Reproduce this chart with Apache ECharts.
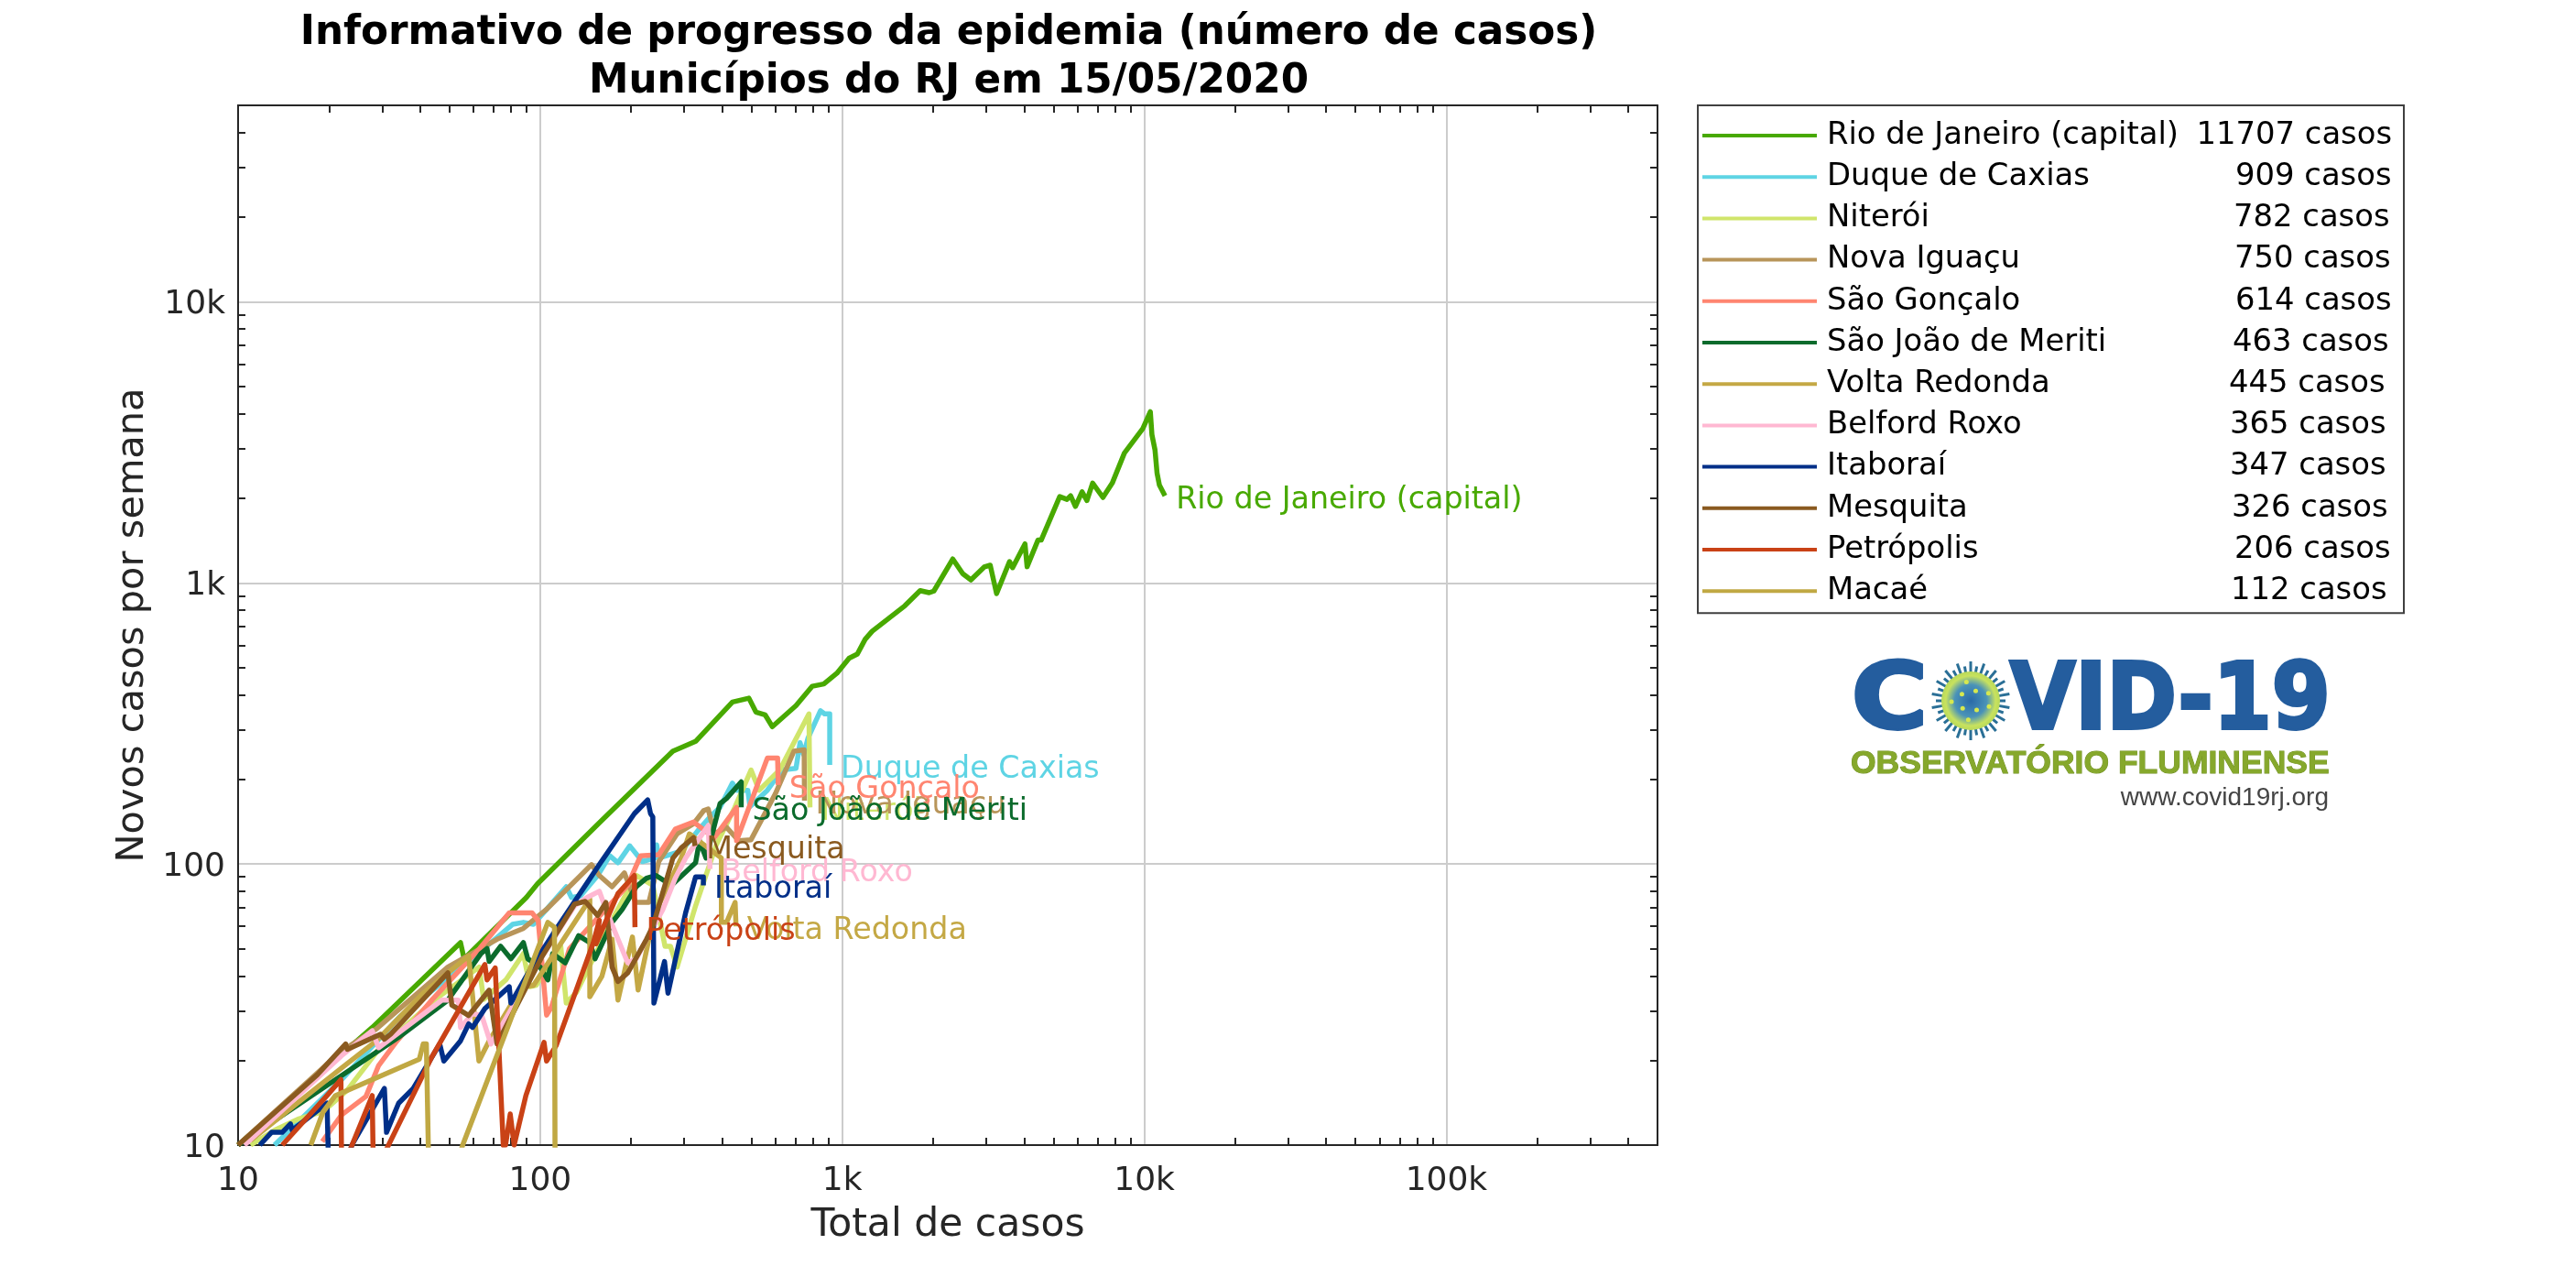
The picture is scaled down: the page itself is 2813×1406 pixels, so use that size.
<!DOCTYPE html>
<html><head><meta charset="utf-8">
<style>html,body{margin:0;padding:0;background:#fff}#c{width:2813px;height:1406px}</style>
<script src="https://cdn.jsdelivr.net/npm/echarts@6/dist/echarts.min.js"></script>
</head><body><div id="c"></div>
<script>
const titleLines = ['Informativo de progresso da epidemia (número de casos)', 'Municípios do RJ em 15/05/2020'];
const xLabel = 'Total de casos';
const yLabel = 'Novos casos por semana';
const xTickLabels = {10:'10',100:'100',1000:'1k',10000:'10k',100000:'100k'};
const yTickLabels = {10:'10',100:'100',1000:'1k',10000:'10k'};

const names = ['Rio de Janeiro (capital)','Duque de Caxias','Niterói','Nova Iguaçu','São Gonçalo','São João de Meriti','Volta Redonda','Belford Roxo','Itaboraí','Mesquita','Petrópolis','Macaé'];
const totals = [11707,909,782,750,614,463,445,365,347,326,206,112];
const colors = ['#48a900','#5ed4e4','#d0e56b','#b8955a','#ff8570','#0b6b2c','#c4a845','#ffb8d2','#002f88','#8a5a20','#c94216','#c0a843'];

const rio = [[10,10],[27.8,26.2],[54.5,52.5],[56,46],[90,76],[98,85],[160,143],[275,252],[327,273],[433,377],[491,389],[518,347],[556,339],[587,308],[703,366],[796,429],[869,437],[960,477],[1054,540],[1122,558],[1191,630],[1256,673],[1611,829],[1811,939],[1941,923],[2010,935],[2323,1216],[2506,1078],[2667,1025],[2951,1139],[3090,1156],[3243,916],[3580,1191],[3664,1133],[4027,1377],[4093,1142],[4446,1420],[4557,1420],[5248,2028],[5546,1982],[5702,2042],[5916,1871],[6221,2109],[6457,1963],[6745,2265],[7295,2014],[7834,2265],[8590,2896],[9886,3540],[10471,4064],[10600,3365],[10850,2972],[11020,2460],[11220,2228],[11707,2042]];
const duque = [[13.2,10],[22,17.1],[34.3,28.6],[62.8,48.4],[81,61],[88,62],[95,61],[105,69],[122,83],[127,76],[136,77],[155,91],[170,107],[181,101],[198,116],[218,102],[240,105],[243,117],[247,105],[293,111],[332,131],[365,147],[394,159],[433,194],[447,183],[487,183],[495,160],[565,183],[631,216],[703,219],[725,270],[745,245],[770,280],[847,351],[874,342],[909,342],[909,225]];
const niteroi = [[11,10],[13.2,11.3],[15.9,12.4],[19.2,13.2],[23,15.7],[29,21.7],[45,33],[62.8,43],[65,33],[77,38.7],[88,48],[92.5,36.6],[97,37],[117,51],[122,32],[132,35],[178,67],[208,91],[236,84],[259,51],[270,51],[284,43],[327,71],[383,117],[441,159],[499,216],[531,183],[621,216],[776,342],[782,159]];
const novaIguacu = [[10,10],[22,21.6],[28.7,25.9],[49.5,43],[72,54],[88,59],[105,69],[148,99.5],[157,91],[173,83],[190,93],[207,73],[229,73],[247,102],[284,128],[322,139],[348,155],[360,157],[377,128],[414,135],[454,121],[499,122],[601,178],[692,252],[748,255],[750,168]];
const saoGoncalo = [[19,10.3],[22,12.8],[26.5,14.9],[29.2,19.2],[33.5,23.4],[44,33],[63,50],[79,67],[94,67],[98.5,63],[105,29],[109,31],[125,50],[195,84],[215,107],[247,108],[280,133],[322,141],[377,124],[447,159],[447,121],[565,238],[611,238],[614,191]];
const saoJoao = [[10,10],[34,24.2],[49.5,32.8],[63.7,48],[66.7,50],[67.8,45],[74,51],[80,46],[88,52.5],[91,46],[100,43],[106,38.7],[110,48],[121,44.5],[134,55.6],[146,52.5],[152,46],[173,62],[187,69],[208,83],[225,89],[242,91],[272,84],[327,101],[337,121],[354,105],[394,164],[414,171],[463,196],[463,159]];
const voltaRedonda = [[11,10.4],[22,18.8],[28.7,23.5],[41,34.7],[57,46.4],[58,47],[62.7,19.9],[67.8,23.5],[87,36.6],[95,37],[146,75],[146,33.7],[160,39.8],[173,54],[181,32.8],[202,55],[211,35.6],[229,54],[240,67],[293,105],[312,128],[398,105],[398,62],[414,62],[442,73],[445,60]];
const belfordRoxo = [[10.5,10],[22,20.8],[27.8,25.5],[29.2,22.2],[47.3,32.8],[53.6,32.8],[54.5,26.2],[59.7,29.3],[64,29],[68.7,22.9],[101.6,47],[130,71],[143,76],[157,80],[165,69],[181,54],[195,44.5],[208,46],[225,54],[255,69],[280,89],[303,105],[360,137],[365,96]];
const itaborai = [[11.8,10],[12.9,11.1],[14,11.1],[14.9,11.9],[15.1,11.3],[19.7,14.1],[19.9,9],[23.2,9],[23.8,10],[30.5,15.9],[31,11.1],[34,14.1],[38,15.9],[46.5,22.9],[48,19.9],[54.5,23.5],[58,27],[59.7,26.2],[65.6,30.6],[79,36.6],[80,32],[92.5,42],[113,58.7],[157,99.5],[205,151],[227,169],[232,151],[236,147],[238,32],[258,45],[265,34.7],[303,67],[327,90],[347,90],[347,84]];
const mesquita = [[10,10],[18.3,17.8],[22.7,22.9],[23,21.9],[29.6,24.8],[30.5,23.8],[32,24.8],[49.5,41],[51,31.5],[58,28.9],[67.8,35.6],[72,22.9],[101.6,47],[130,72],[141,73.6],[155,65.6],[165,73],[173,43],[181,38.2],[195,41],[225,54],[236,60],[275,105],[293,114],[322,124],[326,116]];
const petropolis = [[14,10],[19.7,15],[21.9,17.1],[22,9],[22.9,9],[27.8,15],[28,9],[30,9],[43.7,20.5],[65.6,43.9],[66.7,38.7],[71,42.7],[75.5,10],[76.8,10],[79.6,12.9],[82,10],[89.7,15],[103,23.2],[105,19.9],[113,22.6],[150,52.5],[157,63],[153,52],[181,78.5],[205,91],[206,59.6]];
const macae = [[17.4,10],[19.1,13.1],[21,15],[39.8,20.2],[41,22.9],[42,22.9],[42.7,9],[52,8],[55.4,10],[106,62],[111.5,59.6],[112,9]];
const seriesData = [rio,duque,niteroi,novaIguacu,saoGoncalo,saoJoao,voltaRedonda,belfordRoxo,itaborai,mesquita,petropolis,macae];

const FONT = '"DejaVu Sans"';
const INK = '#262626';
function minorTicks(lo, hi){ const t=[]; for(let d=lo;d<hi;d*=10){ for(let k=2;k<=9;k++){ if(k*d<hi) t.push(k*d);} } return t; }
const xMinor = minorTicks(10,500000), yMinor = minorTicks(10,50000);
const countShift = [0,0.5,2.5,1.5,0.5,3.5,7.5,6.5,6.5,4.5,1.5,5.5];

const rich = {a:{width:386,padding:[0,0,0,6],fontSize:33.8,lineHeight:37,fontFamily:FONT,color:'#000'}};
countShift.forEach((s,i)=>{ rich['b'+i]={width:231-s,padding:[0,s,0,0],align:'right',fontSize:33.8,lineHeight:37,fontFamily:FONT,color:'#000'}; });

function tickAxis(pos, max, ticks){
  return {type:'log',logBase:10,min:10,max:max,position:pos,
    axisLine:{show:true,onZero:false,lineStyle:{color:INK,width:2}},
    axisTick:{show:true,inside:true,length:8,customValues:ticks,lineStyle:{color:INK,width:2}},
    axisLabel:{show:false},splitLine:{show:false},minorTick:{show:false},minorSplitLine:{show:false}};
}
const grid = {left:260,top:115,width:1550,height:1135};
const option = {
  animation:false,
  backgroundColor:'#fff',
  title:titleLines.map((t,i)=>({text:t,left:grid.left+grid.width/2-4,top:10+i*53,textAlign:'center',textStyle:{fontFamily:FONT,fontWeight:'bold',fontSize:43.7,color:'#000'}})),
  grid:Object.assign({containLabel:false},grid),
  legend:{orient:'vertical',left:1854,top:115,padding:[16,13,7,5],itemGap:8.2+3,itemWidth:125,itemHeight:4,borderColor:'#404040',borderWidth:2,icon:'rect',
    data:names.map(n=>({name:n})),
    textStyle:{rich:rich},
    formatter:function(n){const i=names.indexOf(n);return '{a|'+n+'}{b'+i+'|'+totals[i]+' casos}';}},
  xAxis:[
    {type:'log',logBase:10,min:10,max:500000,position:'bottom',name:xLabel,nameLocation:'middle',nameGap:66,nameTextStyle:{fontFamily:FONT,fontSize:42.5,color:INK},
     axisLine:{show:true,onZero:false,lineStyle:{color:INK,width:2}},axisTick:{show:false},
     axisLabel:{show:true,margin:22,fontFamily:FONT,fontSize:36,color:INK,formatter:v=>xTickLabels[Math.round(v)]||''},
     splitLine:{show:true,lineStyle:{color:'#cccccc',width:2}},minorTick:{show:false},minorSplitLine:{show:false}},
    tickAxis('top',500000,xMinor),
    tickAxis('bottom',500000,xMinor)
  ],
  yAxis:[
    {type:'log',logBase:10,min:10,max:50000,position:'left',name:yLabel,nameLocation:'middle',nameGap:91,nameRotate:90,nameTextStyle:{fontFamily:FONT,fontSize:41.5,color:INK},
     axisLine:{show:true,onZero:false,lineStyle:{color:INK,width:2}},axisTick:{show:false},
     axisLabel:{show:true,margin:14,fontFamily:FONT,fontSize:36,color:INK,
       rich:{v:{fontFamily:FONT,fontSize:36,color:INK,padding:[7,0,0,0]}},
       formatter:v=>{const s=yTickLabels[Math.round(v)];return s?'{v|'+s+'}':'';}},
     splitLine:{show:true,lineStyle:{color:'#cccccc',width:2}},minorTick:{show:false},minorSplitLine:{show:false}},
    tickAxis('right',50000,yMinor),
    tickAxis('left',50000,yMinor)
  ],
  series:names.map((n,i)=>({
    name:n,type:'line',data:seriesData[i],symbol:'none',smooth:false,clip:true,
    color:colors[i],lineStyle:{color:colors[i],width:5.5,join:'round'},itemStyle:{color:colors[i]},
    endLabel:{show:n!=='Macaé',formatter:'{a}',distance:14,offset:[-2,5],fontFamily:FONT,fontSize:33.3,color:colors[i]},
    emphasis:{disabled:true}
  })),
  graphic:{elements:buildLogo()}
};
function buildLogo(){
  const blue='#245d9e', els=[];
  const bigText=(t,x,y,sx)=>({type:'text',x:x,y:y,scaleX:sx,style:{text:t,fontFamily:FONT,fontWeight:'bold',fontSize:100,fill:blue,stroke:blue,lineWidth:4,textVerticalAlign:'middle'}});
  els.push(bigText('C',2022,769,1.13));
  els.push(bigText('VID-19',2195,769,0.92));
  const cx=2152,cy=765;
  for(let k=0;k<36;k++){const a=k*Math.PI*2/36,r1=28,r2=(k%2?43:38);
    els.push({type:'line',shape:{x1:cx+r1*Math.cos(a),y1:cy+r1*Math.sin(a),x2:cx+r2*Math.cos(a),y2:cy+r2*Math.sin(a)},style:{stroke:'#2a6f96',lineWidth:3}});}
  els.push({type:'circle',shape:{cx:cx,cy:cy,r:32},style:{fill:{type:'radial',x:.5,y:.5,r:.5,colorStops:[{offset:0,color:'#2a6aa8'},{offset:.55,color:'#4a93b8'},{offset:.85,color:'#c8e25e'},{offset:1,color:'#b9d95a'}]}}});
  for(let k=0;k<9;k++){const a=k*Math.PI*2/9+.3,r=k%2?12:21;
    els.push({type:'circle',shape:{cx:cx+r*Math.cos(a),cy:cy+r*Math.sin(a),r:2.5},style:{fill:'#d6e84f'}});}
  els.push({type:'text',x:2021,y:834,style:{text:'OBSERVATÓRIO FLUMINENSE',fontFamily:'"Liberation Sans"',fontWeight:'bold',fontSize:35.5,fill:'#86a82c',stroke:'#6f8f22',lineWidth:1,textVerticalAlign:'middle'}});
  els.push({type:'text',x:2543,y:871,style:{text:'www.covid19rj.org',fontFamily:'"Liberation Sans"',fontSize:28,fill:'#444',textAlign:'right',textVerticalAlign:'middle'}});
  return els;
}
const chart = echarts.init(document.getElementById('c'),null,{renderer:'canvas'});
chart.setOption(option);
</script></body></html>
